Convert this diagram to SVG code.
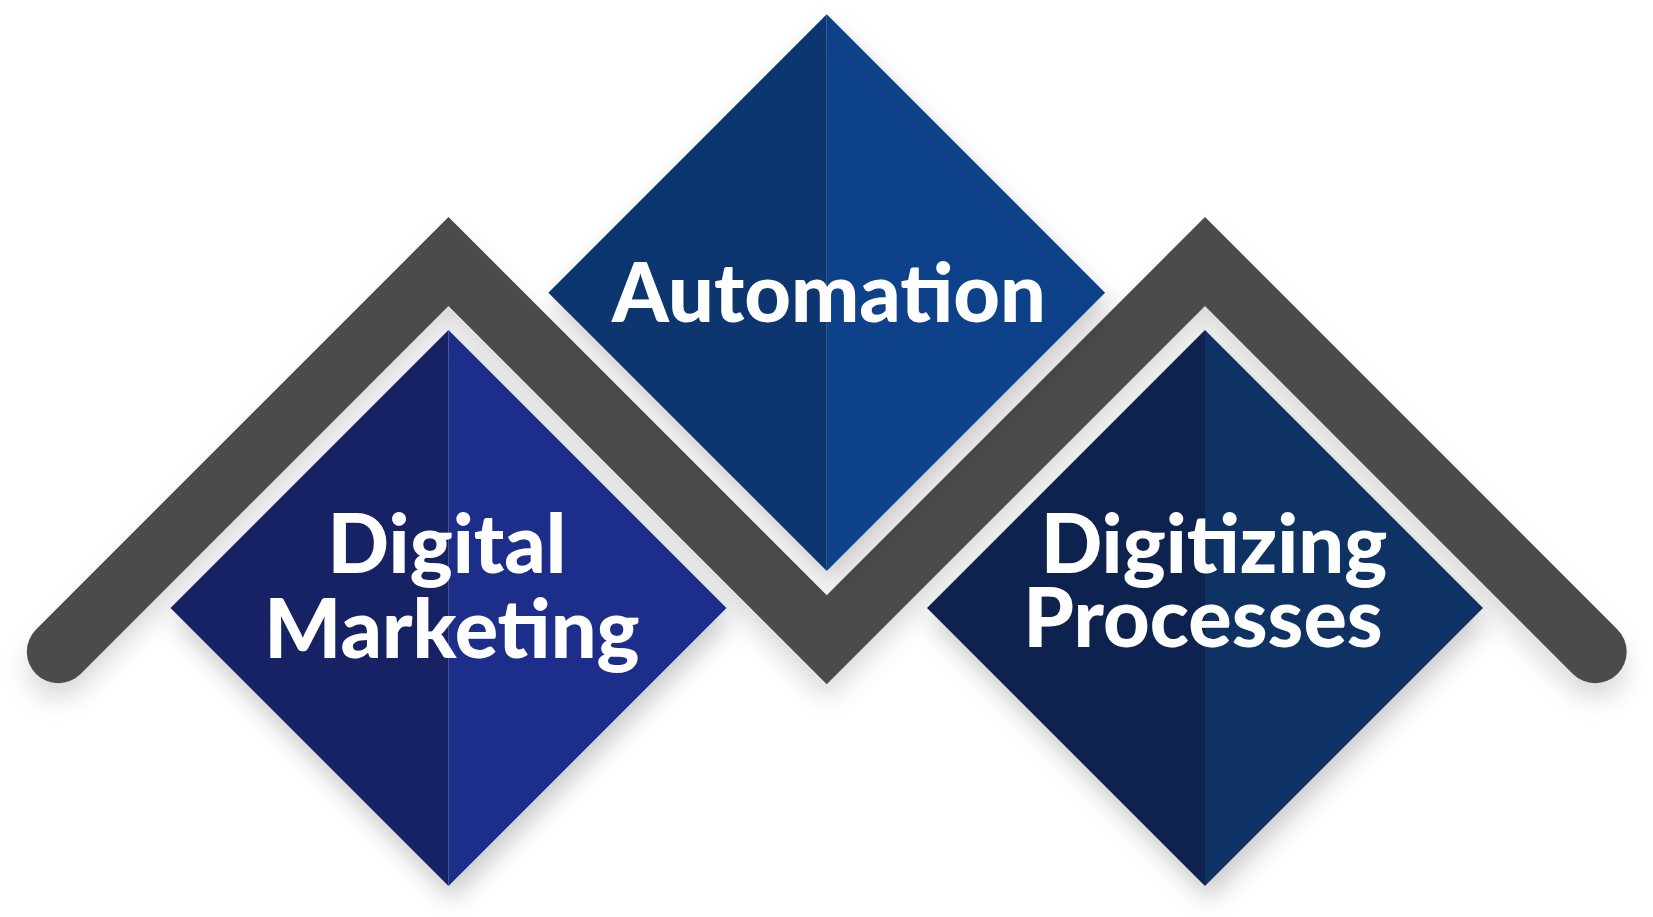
<svg xmlns="http://www.w3.org/2000/svg" width="1653" height="917" viewBox="0 0 1653 917">
  <defs>
    <filter id="shadow" x="-20%" y="-20%" width="140%" height="150%">
      <feDropShadow dx="4" dy="14" stdDeviation="12" flood-color="#000" flood-opacity="0.2"/>
    </filter>
    <filter id="bandShadow" filterUnits="userSpaceOnUse" x="0" y="150" width="1653" height="620">
      <feDropShadow dx="0" dy="16" stdDeviation="12" flood-color="#000" flood-opacity="0.14"/>
    </filter>
    <style>
      .label { font-family: Lato, "Liberation Sans", sans-serif; font-weight: 900; font-size: 81px; fill: #ffffff; text-anchor: middle; }
      .band { fill: none; stroke: #4b4b4b; stroke-width: 63; stroke-linecap: round; stroke-linejoin: miter; stroke-miterlimit: 10; }
    </style>
  </defs>
  <rect width="1653" height="917" fill="#ffffff"/>

  <g id="connectors">
    <path class="band" filter="url(#bandShadow)" d="M58.3,651.7 L448.5,261.5 L826.75,639.75 L1205,261.5 L1595.2,651.7"/>
  </g>

  <g id="node-automation">
    <g filter="url(#shadow)">
      <polygon points="826.75,14.3 826.75,571 548.4,292.7" fill="#0e3670"/>
      <polygon points="826.75,14.3 1105.1,292.7 826.75,571" fill="#0f438b"/>
    </g>
    <text class="label" x="829" y="321.7">Automation</text>
  </g>

  <g id="node-digital-marketing">
    <g filter="url(#shadow)">
      <polygon points="448.5,330 448.5,886 170.5,608" fill="#172163"/>
      <polygon points="448.5,330 726.5,608 448.5,886" fill="#1d2e89"/>
    </g>
    <text class="label" x="447" y="573.3">Digital</text>
    <text class="label" x="452" y="658.3">Marketing</text>
  </g>

  <g id="node-digitizing-processes">
    <g filter="url(#shadow)">
      <polygon points="1205,330 1205,886 927,608" fill="#0d2450"/>
      <polygon points="1205,330 1483,608 1205,886" fill="#113063"/>
    </g>
    <text class="label" x="1214" y="573.3">Digitizing</text>
    <text class="label" x="1203" y="647.3">Processes</text>
  </g>
</svg>
